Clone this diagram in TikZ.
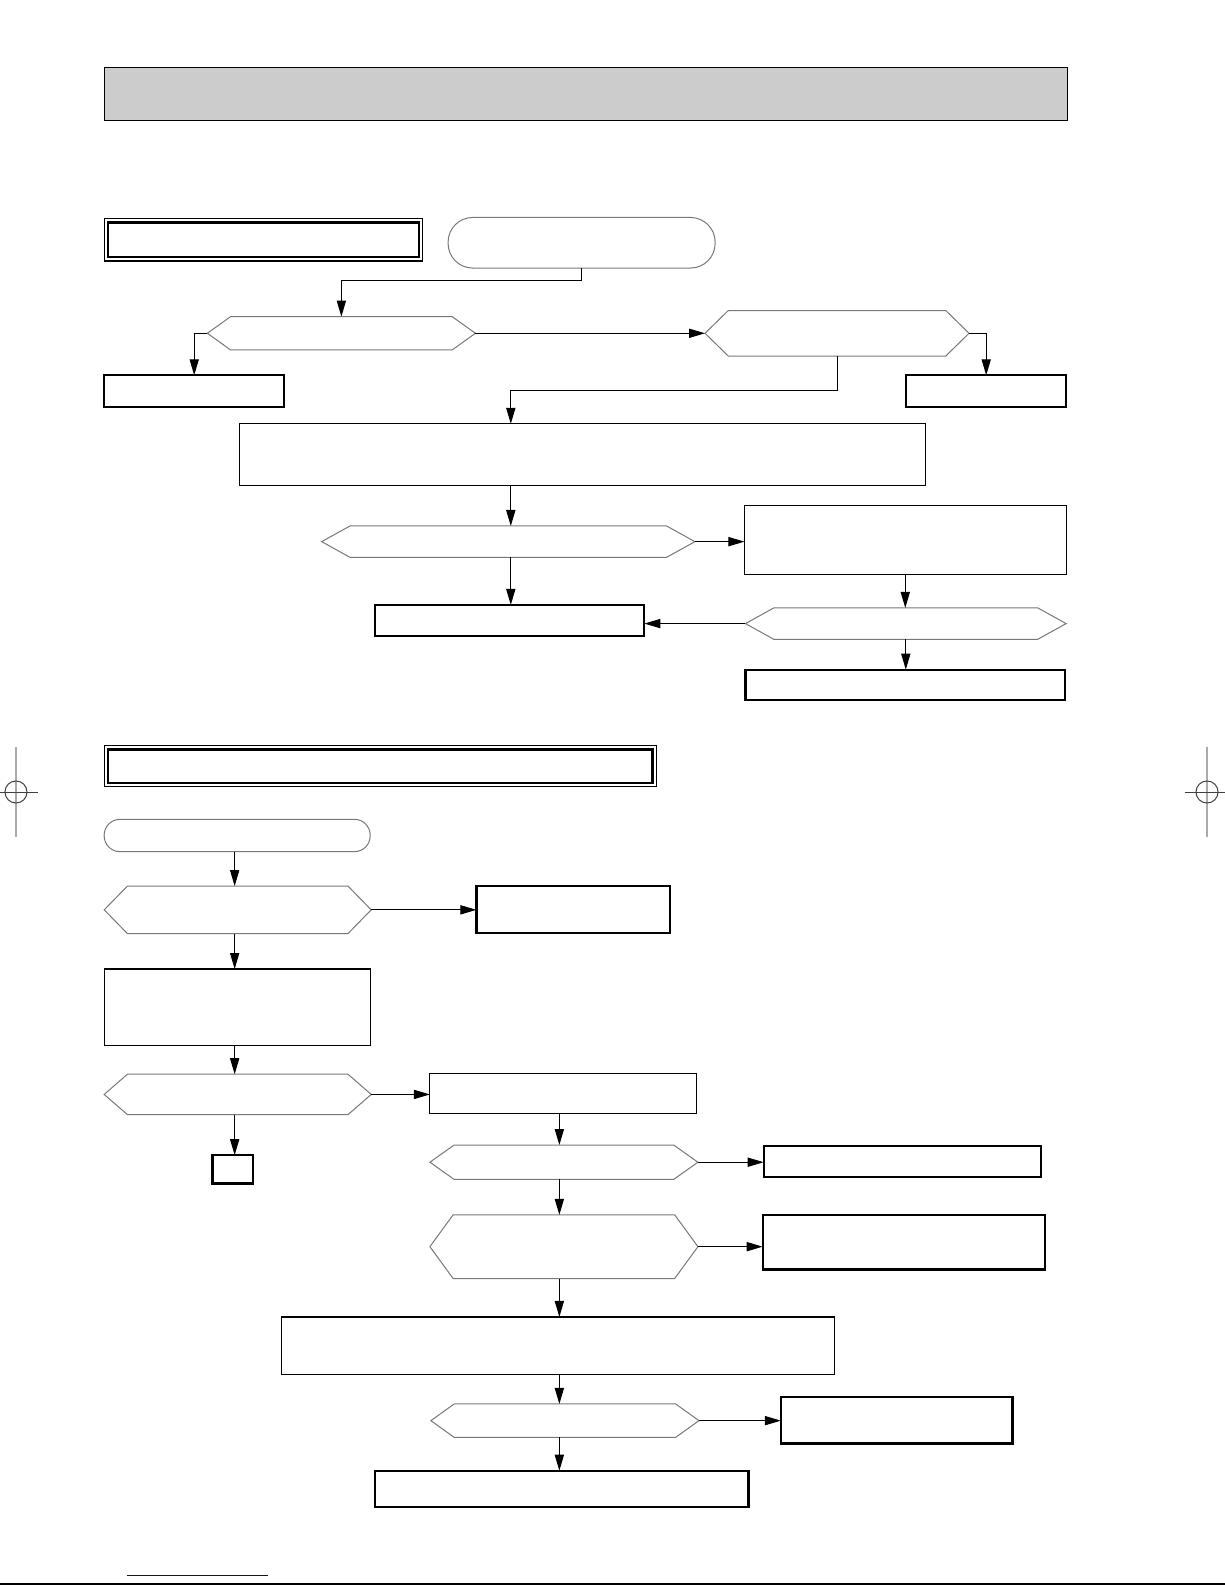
\documentclass[tikz,border=0pt]{standalone}
\usetikzlibrary{arrows.meta,calc}
\definecolor{hexgray}{RGB}{120,120,120}
\definecolor{hdrgray}{RGB}{204,204,204}
\definecolor{reggray}{RGB}{170,170,170}
\definecolor{linkblue}{RGB}{0,0,204}
\def\U{0.50575pt}
\tikzset{
  every node/.style={inner sep=0pt, outer sep=0pt},
  thinbox/.style={draw=black, line width=0.55pt},
  thickbox/.style={draw=black, line width=1.1pt},
  hexline/.style={draw=hexgray, line width=0.5pt, line join=miter},
  term/.style={draw=hexgray, line width=0.5pt},
  conn/.style={draw=black, line width=0.5pt, -{Triangle[length=8pt,width=4.6pt]}},
}
% rectangle node by corners: style, name, x1, y1, x2, y2
\newcommand\bx[6]{\node[#1, minimum width={(#5-#3)*\U}, minimum height={(#6-#4)*\U}] (#2) at ({(#3+#5)/2},{(#4+#6)/2}) {};}
% hexagon decision: name, x1, y1, x2, y2, slant
\newcommand\hx[6]{%
  \node[minimum width={(#4-#2)*\U}, minimum height={(#5-#3)*\U}] (#1) at ({(#2+#4)/2},{(#3+#5)/2}) {};
  \draw[hexline] (#1.west) -- ($(#1.north west)+(#6,0)$) -- ($(#1.north east)+(-#6,0)$) -- (#1.east) -- ($(#1.south east)+(-#6,0)$) -- ($(#1.south west)+(#6,0)$) -- cycle;}
\begin{document}
\begin{tikzpicture}[x=0.50575pt, y=-0.50575pt]
\useasboundingbox (0,0) rectangle (1211,1567);
\fill[white] (0,0) rectangle (1211,1567);

% header bar
\node[fill=hdrgray, draw=black, line width=0.55pt, minimum width={952*\U}, minimum height={52*\U}] (H) at (579,93) {};

% ---------------- section 1 ----------------
\bx{thinbox}{S1}{103}{216}{418}{258}
\draw[line width=1.1pt] ($(S1.south west)+(4,-4)$) rectangle ($(S1.north east)+(-4,4)$);

\node[term, rounded corners=12.3pt, minimum width={264*\U}, minimum height={50*\U}] (T1) at (575,240) {};

\hx{D1}{205}{313}{470}{346}{23}
\hx{D2}{697}{307}{958}{352}{23}
\bx{thickbox}{B1}{103}{371}{281}{402}
\bx{thickbox}{B2}{896}{371}{1054}{402}
\bx{thinbox}{B3}{237}{419}{915}{480}
\hx{D3}{318}{520}{687}{551}{28}
\bx{thinbox}{B4}{736}{500}{1054}{568}
\bx{thickbox}{B5}{371}{598}{637}{629}
\hx{D4}{737}{601}{1054}{632}{28}
\bx{thickbox}{B6}{737}{662}{1053}{692}

\coordinate (colA) at (505,0);
\draw[conn] (T1.south) -- ++(0,12) -| (D1.north);
\draw[conn] (D1.west) -| (B1.north);
\draw[conn] (D1.east) -- (D2.west);
\draw[conn] (D2.east) -| (B2.north);
\draw[conn] (D2.south) -- ++(0,34) -| (B3.north -| colA);
\draw[conn] (B3.south -| colA) -- (D3.north -| colA);
\draw[conn] (D3.east) -- (D3.east -| B4.west);
\draw[conn] (D3.south -| colA) -- (B5.north -| colA);
\draw[conn] (B4.south) -- (B4.south |- D4.north);
\draw[conn] (D4.west) -- (D4.west -| B5.east);
\draw[conn] (D4.south) -- (D4.south |- B6.north);

% ---------------- section 2 ----------------
\bx{thinbox}{S2}{103}{737}{649}{778}
\draw[line width=1.1pt] ($(S2.south west)+(4,-4)$) rectangle ($(S2.north east)+(-4,4)$);

\node[term, rounded corners=7.9pt, minimum width={263*\U}, minimum height={32*\U}] (T2) at (234.5,826) {};

\hx{D5}{103}{876}{367}{923}{23}
\bx{thickbox}{B7}{471}{876}{662}{922}
\bx{thinbox}{B8}{103}{958}{366}{1034}
\hx{D6}{103}{1062}{367}{1102}{23}
\bx{thinbox}{B9}{425}{1061}{689}{1101}
\bx{thickbox}{B10}{210}{1142}{250}{1170}
\hx{D7}{425}{1132}{690}{1166}{24}
\bx{thickbox}{B11}{755}{1133}{1029}{1164}
\hx{D8}{425}{1201}{690}{1264}{23}
\bx{thickbox}{B12}{754}{1201}{1033}{1255}
\bx{thinbox}{B13}{278}{1302}{825}{1359}
\hx{D9}{426}{1388}{691}{1421}{23}
\bx{thickbox}{B14}{772}{1381}{1001}{1427}
\bx{thickbox}{B15}{371}{1454}{740}{1490}

\coordinate (colB) at (232,0);
\coordinate (colC) at (553,0);
\draw[conn] (T2.south -| colB) -- (D5.north -| colB);
\draw[conn] (D5.east) -- (D5.east -| B7.west);
\draw[conn] (D5.south -| colB) -- (B8.north -| colB);
\draw[conn] (B8.south -| colB) -- (D6.north -| colB);
\draw[conn] (D6.east) -- (D6.east -| B9.west);
\draw[conn] (D6.south -| colB) -- (B10.north -| colB);
\draw[conn] (B9.south -| colC) -- (D7.north -| colC);
\draw[conn] (D7.east) -- (D7.east -| B11.west);
\draw[conn] (D7.south -| colC) -- (D8.north -| colC);
\draw[conn] (D8.east) -- (D8.east -| B12.west);
\draw[conn] (D8.south -| colC) -- (B13.north -| colC);
\draw[conn] (B13.south -| colC) -- (D9.north -| colC);
\draw[conn] (D9.east) -- (D9.east -| B14.west);
\draw[conn] (D9.south -| colC) -- (B15.north -| colC);

% ---------------- registration marks ----------------
\draw[reggray, line width=0.6pt] (15.8,738.5) -- (15.8,827.5);
\draw[black!75, line width=0.5pt] (15.8,783) circle[radius=10.9];
\draw[black!75, line width=0.5pt] (0,783) -- (37.6,783);
\draw[reggray, line width=0.6pt] (1193.3,738.5) -- (1193.3,827.5);
\draw[black!75, line width=0.5pt] (1193.3,783) circle[radius=10.9];
\draw[black!75, line width=0.5pt] (1171.5,783) -- (1211,783);

% bottom marks
\draw[linkblue, line width=0.5pt] (125.6,1557.1) -- (265,1557.1);
\draw[black, line width=0.9pt] (0,1566) -- (1211,1566);
\end{tikzpicture}
\end{document}
